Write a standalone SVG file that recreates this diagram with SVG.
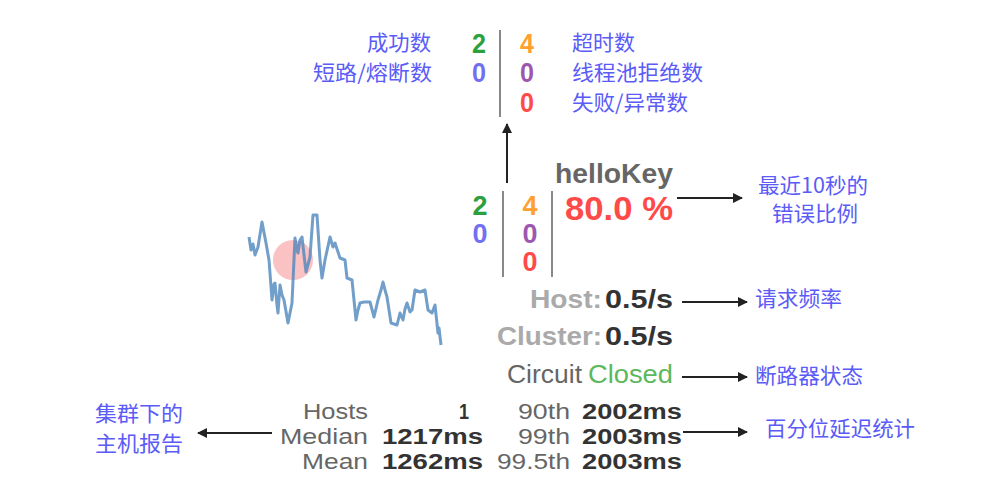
<svg xmlns="http://www.w3.org/2000/svg" width="1005" height="493" viewBox="0 0 1005 493">
<defs>
<marker id="ah" markerWidth="10" markerHeight="10" refX="9" refY="5" orient="auto" markerUnits="userSpaceOnUse" viewBox="0 0 10 10">
<path d="M0,0 L10,5 L0,10 z" fill="#222"/>
</marker>
<style>
.lbl{font-family:"Noto Sans CJK SC","Liberation Sans",sans-serif;font-size:21px;fill:#5b5bf7}
.num{font-family:"Liberation Sans",Arial,sans-serif;font-size:27px;font-weight:bold}
.g{fill:#2ca03c}.b{fill:#7070f0}.o{fill:#ffa030}.p{fill:#9c58b0}.r{fill:#ff4a4a}
.sep{stroke:#888;stroke-width:2}
.con{stroke:#222;stroke-width:2;fill:none;marker-end:url(#ah)}
.t{font-family:"Liberation Sans",Arial,sans-serif;font-size:26px}
.tb{font-family:"Liberation Sans",Arial,sans-serif;font-size:22px}
.lg{fill:#aaa;font-weight:bold}.dk{fill:#333;font-weight:bold}.md{fill:#666}
</style>
</defs>
<rect width="1005" height="493" fill="#fff"/>

<g id="legend">
<text class="lbl" x="431" y="50" text-anchor="end" textLength="64" lengthAdjust="spacingAndGlyphs">成功数</text>
<text class="lbl" x="432" y="80" text-anchor="end" textLength="119" lengthAdjust="spacingAndGlyphs">短路/熔断数</text>
<text class="num g" x="479" y="53" text-anchor="middle" textLength="14" lengthAdjust="spacingAndGlyphs">2</text>
<text class="num b" x="479" y="82" text-anchor="middle" textLength="14" lengthAdjust="spacingAndGlyphs">0</text>
<line class="sep" x1="500" y1="30" x2="500" y2="117"/>
<text class="num o" x="527" y="53" text-anchor="middle" textLength="14" lengthAdjust="spacingAndGlyphs">4</text>
<text class="num p" x="527" y="82" text-anchor="middle" textLength="14" lengthAdjust="spacingAndGlyphs">0</text>
<text class="num r" x="527" y="112" text-anchor="middle" textLength="14" lengthAdjust="spacingAndGlyphs">0</text>
<text class="lbl" x="572" y="50" textLength="63" lengthAdjust="spacingAndGlyphs">超时数</text>
<text class="lbl" x="572" y="80" textLength="131" lengthAdjust="spacingAndGlyphs">线程池拒绝数</text>
<text class="lbl" x="572" y="110" textLength="116" lengthAdjust="spacingAndGlyphs">失败/异常数</text>
</g>

<g id="sparkline">
<circle cx="293" cy="260" r="20" fill="#f8a8a8" opacity="0.7"/>
<polyline fill="none" stroke="#4f86bd" stroke-width="3" stroke-linejoin="round" opacity="0.8" points="249,237 251,250 253,244 255,255 258,247 262,222 266,243 269,260 272,300 274,284 275,283 277,305 278,313 280,285 282,295 284,300 288,323 292,303 295,238 297,250 298,253 300,240 302,237 304,255 306,272 310,257 313,215 317,215 320,260 322,278 325,260 330,237 333,247 335,243 340,258 345,260 347,278 352,280 354,300 356,320 358,310 360,303 364,302 370,302 374,317 378,300 381,290 383,282 385,290 387,297 391,323 397,325 400,313 403,320 405,309 407,303 410,312 412,310 415,290 420,292 425,290 428,310 432,313 435,305 438,333 439,328 441,345"/>
</g>

<g id="circuit">
<text x="555" y="183" font-family="Liberation Sans,Arial,sans-serif" font-size="28" font-weight="bold" fill="#666" textLength="118" lengthAdjust="spacingAndGlyphs">helloKey</text>
<text class="num g" x="480" y="215" text-anchor="middle" textLength="15" lengthAdjust="spacingAndGlyphs">2</text>
<text class="num b" x="480" y="243" text-anchor="middle" textLength="15" lengthAdjust="spacingAndGlyphs">0</text>
<line class="sep" x1="503" y1="191" x2="503" y2="277"/>
<text class="num o" x="530" y="215" text-anchor="middle" textLength="15" lengthAdjust="spacingAndGlyphs">4</text>
<text class="num p" x="530" y="243" text-anchor="middle" textLength="15" lengthAdjust="spacingAndGlyphs">0</text>
<text class="num r" x="530" y="271" text-anchor="middle" textLength="15" lengthAdjust="spacingAndGlyphs">0</text>
<line class="sep" x1="552" y1="191" x2="552" y2="277"/>
<text x="565" y="220" font-family="Liberation Sans,Arial,sans-serif" font-size="34" font-weight="bold" fill="#ff4a4a" textLength="108" lengthAdjust="spacingAndGlyphs">80.0 %</text>
</g>

<g id="rates">
<text class="t lg" x="602" y="308" text-anchor="end" textLength="72" lengthAdjust="spacingAndGlyphs">Host:</text>
<text class="t dk" x="605" y="308" textLength="68" lengthAdjust="spacingAndGlyphs">0.5/s</text>
<text class="t lg" x="602" y="345" text-anchor="end" textLength="105" lengthAdjust="spacingAndGlyphs">Cluster:</text>
<text class="t dk" x="605" y="345" textLength="68" lengthAdjust="spacingAndGlyphs">0.5/s</text>
<text class="t md" x="507" y="383" textLength="75" lengthAdjust="spacingAndGlyphs">Circuit</text>
<text class="t" x="588" y="383" fill="#5cb85c" textLength="85" lengthAdjust="spacingAndGlyphs">Closed</text>
</g>

<g id="table">
<g class="tb" fill="#666" text-anchor="end">
<text x="368" y="419" textLength="65" lengthAdjust="spacingAndGlyphs">Hosts</text>
<text x="368" y="444" textLength="88" lengthAdjust="spacingAndGlyphs">Median</text>
<text x="368" y="469" textLength="66" lengthAdjust="spacingAndGlyphs">Mean</text>
<text x="570" y="419" textLength="52" lengthAdjust="spacingAndGlyphs">90th</text>
<text x="570" y="444" textLength="52" lengthAdjust="spacingAndGlyphs">99th</text>
<text x="570" y="469" textLength="73" lengthAdjust="spacingAndGlyphs">99.5th</text>
</g>
<g class="tb" fill="#333" font-weight="bold">
<text x="469" y="419" text-anchor="end" textLength="10" lengthAdjust="spacingAndGlyphs">1</text>
<text x="382" y="444" textLength="101" lengthAdjust="spacingAndGlyphs">1217ms</text>
<text x="382" y="469" textLength="101" lengthAdjust="spacingAndGlyphs">1262ms</text>
<text x="582" y="419" textLength="100" lengthAdjust="spacingAndGlyphs">2002ms</text>
<text x="582" y="444" textLength="100" lengthAdjust="spacingAndGlyphs">2003ms</text>
<text x="582" y="469" textLength="100" lengthAdjust="spacingAndGlyphs">2003ms</text>
</g>
</g>

<g id="annotations">
<text class="lbl" x="758" y="193" textLength="110" lengthAdjust="spacingAndGlyphs">最近10秒的</text>
<text class="lbl" x="772" y="221" textLength="86" lengthAdjust="spacingAndGlyphs">错误比例</text>
<text class="lbl" x="755" y="306" textLength="87" lengthAdjust="spacingAndGlyphs">请求频率</text>
<text class="lbl" x="755" y="383" textLength="108" lengthAdjust="spacingAndGlyphs">断路器状态</text>
<text class="lbl" x="95" y="421" textLength="88" lengthAdjust="spacingAndGlyphs">集群下的</text>
<text class="lbl" x="95" y="451" textLength="88" lengthAdjust="spacingAndGlyphs">主机报告</text>
<text class="lbl" x="765" y="436" textLength="150" lengthAdjust="spacingAndGlyphs">百分位延迟统计</text>
</g>

<g id="connectors">
<line class="con" x1="507" y1="183" x2="507" y2="124"/>
<line class="con" x1="677" y1="198" x2="742" y2="198"/>
<line class="con" x1="682" y1="302" x2="747" y2="302"/>
<line class="con" x1="682" y1="377" x2="747" y2="377"/>
<line class="con" x1="272" y1="433" x2="198" y2="433"/>
<line class="con" x1="683" y1="432" x2="747" y2="432"/>
</g>
</svg>
